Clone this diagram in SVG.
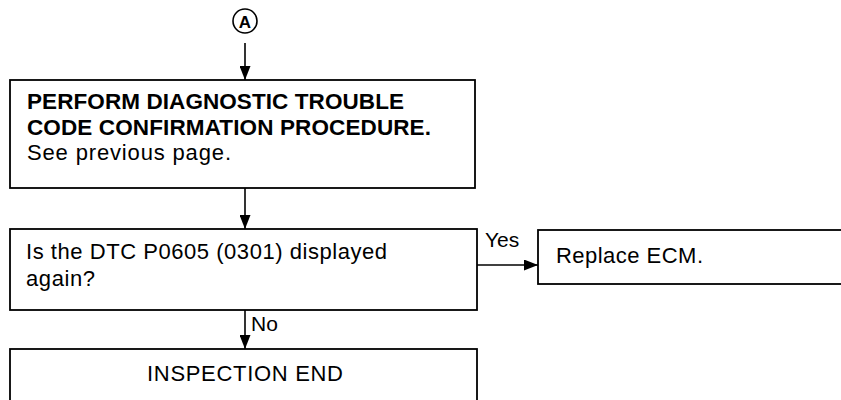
<svg xmlns="http://www.w3.org/2000/svg" width="841" height="400" viewBox="0 0 841 400">
<defs>
<marker id="arr" viewBox="0 0 14 11" refX="14" refY="5.5" markerWidth="14" markerHeight="11" markerUnits="userSpaceOnUse" orient="auto">
<path d="M0,0 L14,5.5 L0,11 Z" fill="#000"/>
</marker>
<style>
.box{fill:#fff;stroke:#000;stroke-width:1.8}
.t{font-family:"Liberation Sans",Arial,sans-serif;font-size:22px;fill:#000}
.b{font-weight:bold;font-size:22.5px}
.c{fill:none;stroke:#000;stroke-width:1.6}
</style>
</defs>
<rect width="841" height="400" fill="#fff"/>
<g id="connectorA">
<circle cx="245" cy="21" r="12" fill="#fff" stroke="#000" stroke-width="1.6"/>
<text x="245" y="27.5" text-anchor="middle" class="t b" style="font-size:17px">A</text>
</g>
<g id="n1">
<rect class="box" x="10" y="80" width="465" height="108"/>
<text class="t b" x="27" y="109" textLength="377">PERFORM DIAGNOSTIC TROUBLE</text>
<text class="t b" x="27" y="135" textLength="404">CODE CONFIRMATION PROCEDURE.</text>
<text class="t" x="27" y="160" textLength="204">See previous page.</text>
</g>
<g id="n2">
<rect class="box" x="10" y="229" width="467" height="81"/>
<text class="t" x="26" y="259" textLength="361">Is the DTC P0605 (0301) displayed</text>
<text class="t" x="26" y="286" textLength="69">again?</text>
</g>
<g id="n3">
<rect class="box" x="538" y="230" width="330" height="54"/>
<text class="t" x="556" y="263" textLength="147">Replace ECM.</text>
</g>
<g id="n4">
<rect class="box" x="10" y="349" width="467" height="80"/>
<text class="t" x="245" y="381" text-anchor="middle" textLength="196">INSPECTION END</text>
</g>
<g id="connectors">
<line class="c" x1="245" y1="43" x2="245" y2="80" marker-end="url(#arr)"/>
<line class="c" x1="245" y1="188" x2="245" y2="229" marker-end="url(#arr)"/>
<line class="c" x1="477" y1="265" x2="538" y2="265" marker-end="url(#arr)"/>
<line class="c" x1="245" y1="310" x2="245" y2="349" marker-end="url(#arr)"/>
<text class="t" x="485" y="247" style="font-size:21px">Yes</text>
<text class="t" x="251" y="331" style="font-size:21px">No</text>
</g>
</svg>
